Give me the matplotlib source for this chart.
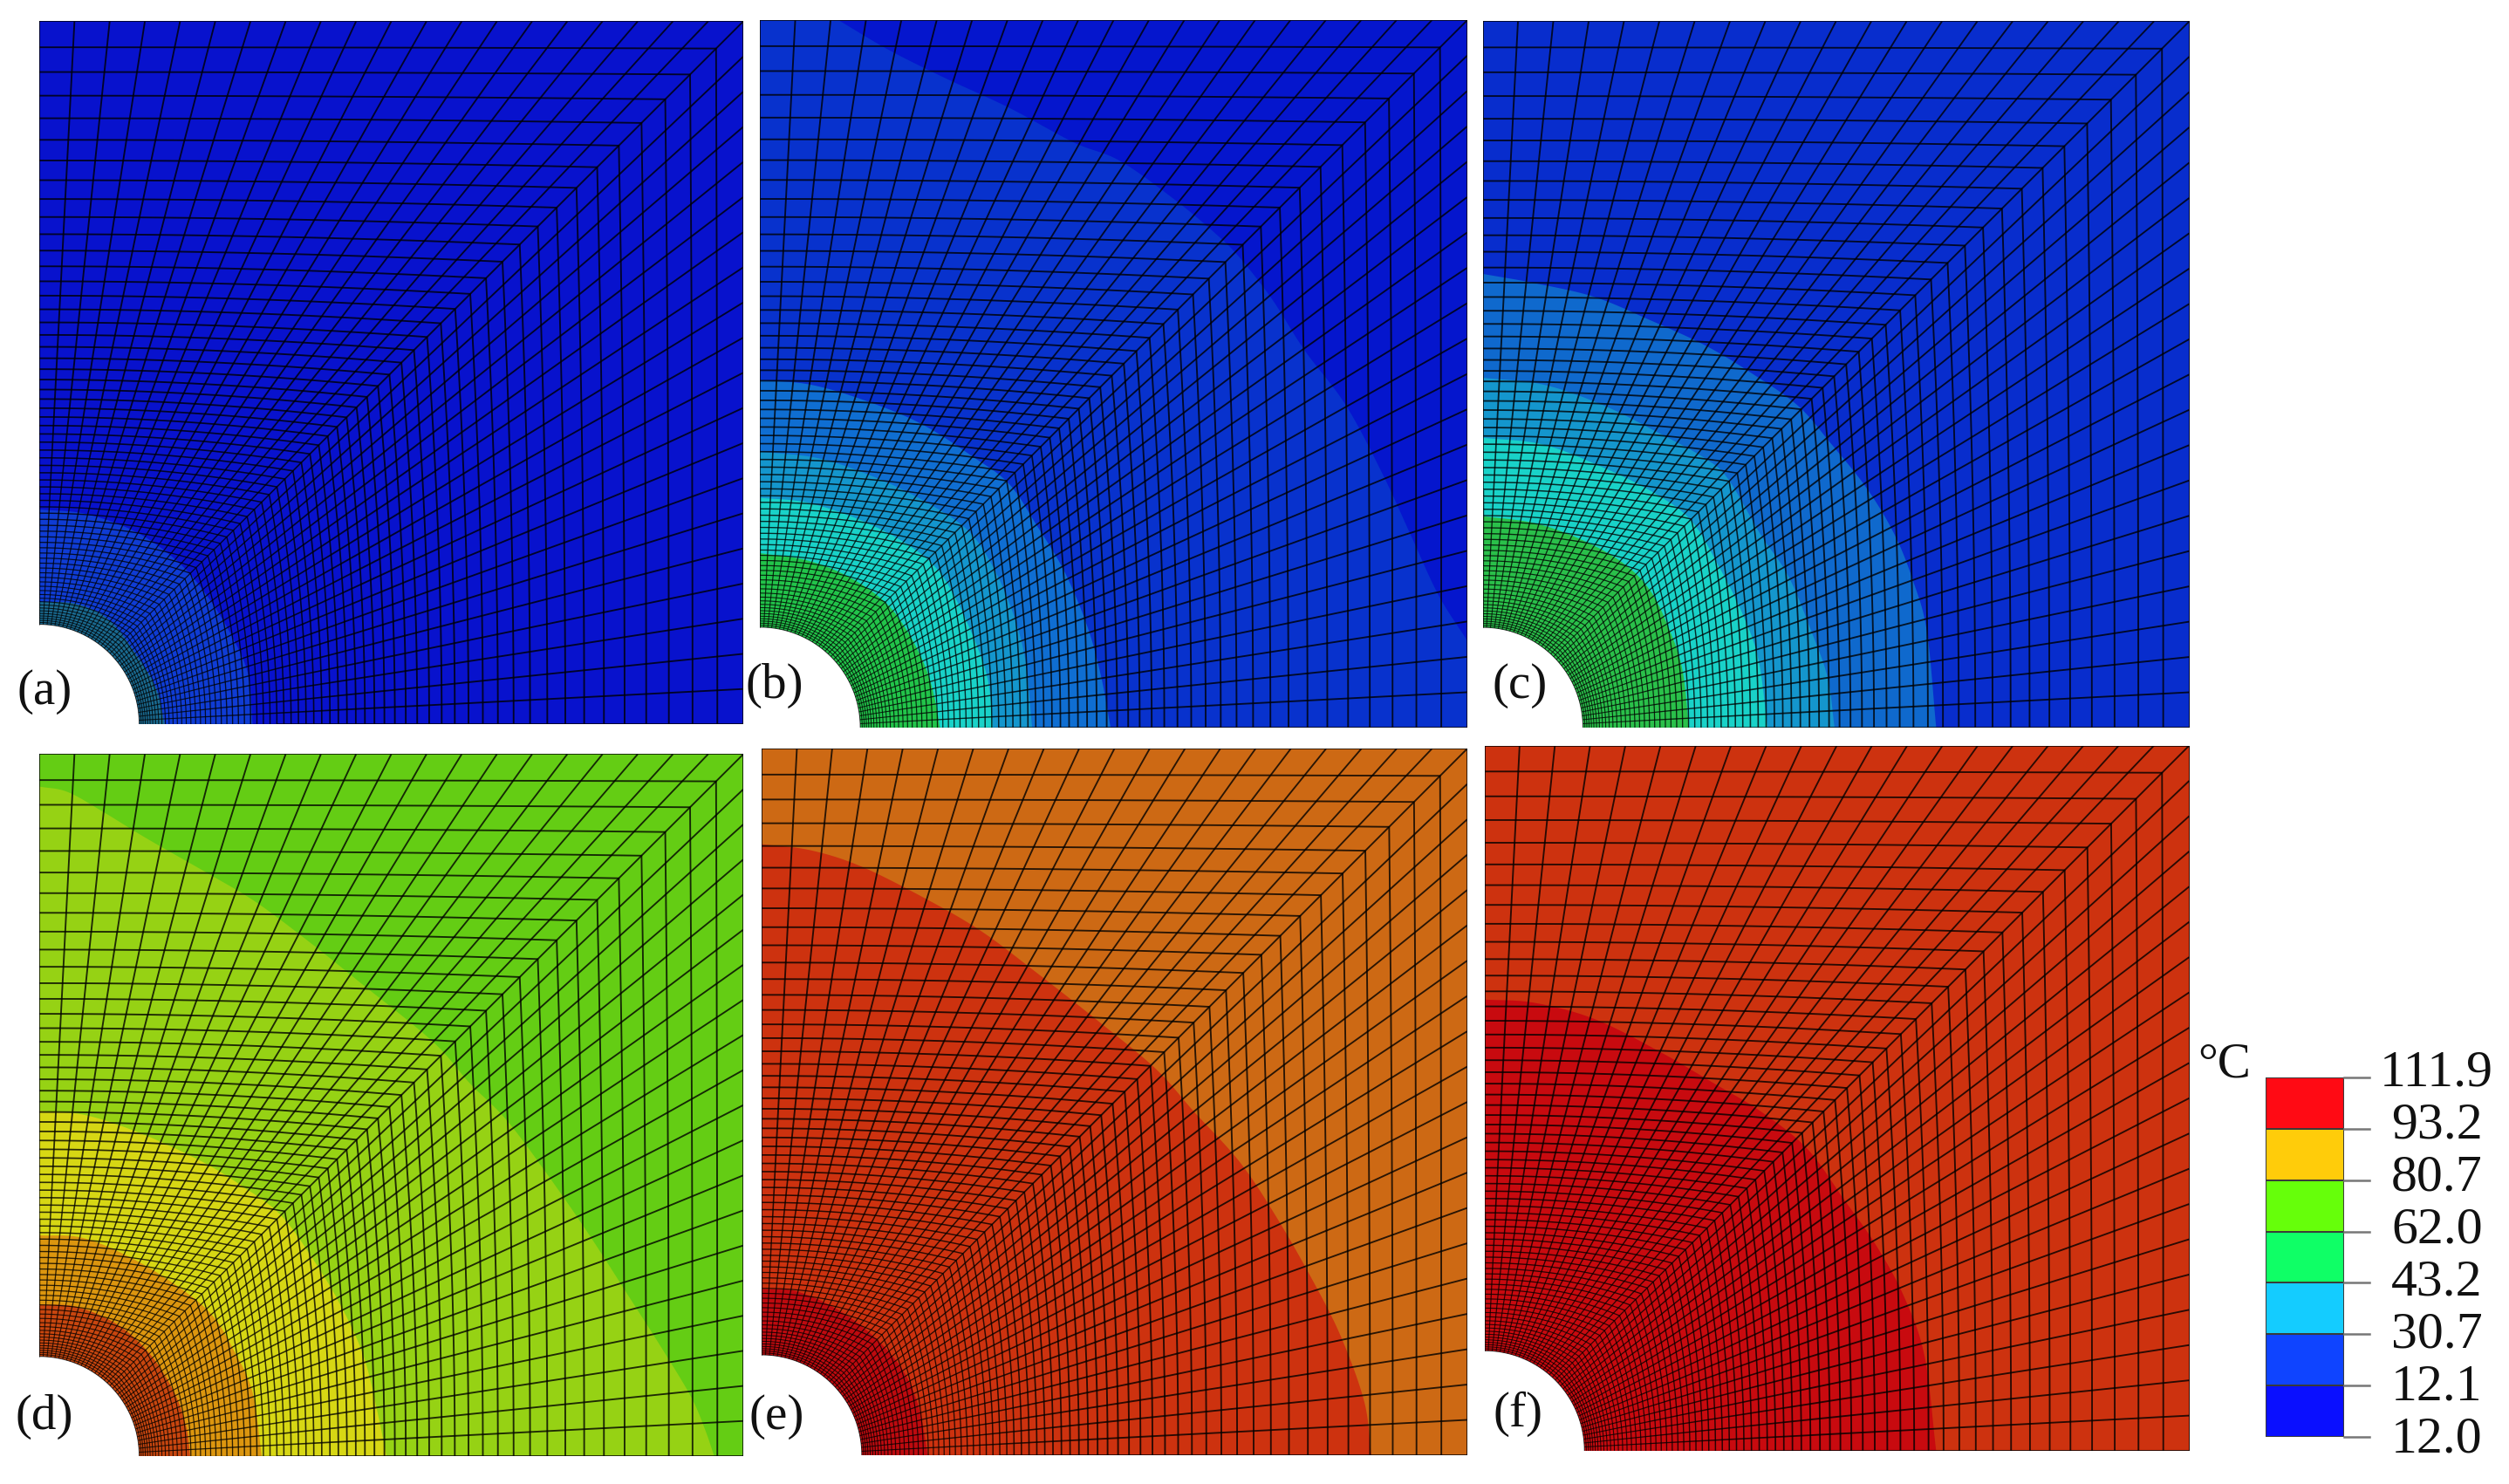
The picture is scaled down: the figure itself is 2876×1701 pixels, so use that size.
import numpy as np
import matplotlib
matplotlib.use('Agg')
import matplotlib.pyplot as plt
from matplotlib.collections import LineCollection
from matplotlib.patches import Circle

W, H = 2876, 1701
plt.rcParams['font.family'] = ['Liberation Serif', 'DejaVu Serif']

# legend
legend_labels = ['12.0', '12.1', '30.7', '43.2', '62.0', '80.7', '93.2', '111.9']
legend_colors = ['#0a0fff', '#0f44ff', '#14ccff', '#0fff66', '#66ff0a', '#ffcc0a', '#ff0a14']

# band colours and contour lines, outermost first
# box is (left, right, top, bottom) of the panel in the same reading units
a_colors = ['#0812cd', '#0f3cd4', '#1a6a90']
a_lines = [
    [(28, 1075), (130, 1085), (240, 1125), (330, 1190), (390, 1260), (440, 1340), (480, 1430), (490, 1540)],
    [(28, 1275), (110, 1280), (180, 1315), (235, 1385), (280, 1460), (300, 1540)],
]
a_box = (28, 1553, 18, 1540)

b_colors = ['#0516cd', '#0832cd', '#0f6ed2', '#1496cd', '#19d2c8', '#22c44a']
b_lines = [
    [(190, 15), (300, 80), (420, 140), (560, 205), (700, 280), (800, 320), (920, 405), (1010, 480), (1060, 530),
     (1130, 620), (1200, 730), (1290, 850), (1370, 1000), (1430, 1130), (1490, 1260), (1553, 1360)],
    [(20, 795), (130, 805), (250, 840), (370, 890), (480, 960), (560, 1020), (620, 1110), (680, 1210), (730, 1330),
     (760, 1440), (780, 1548)],
    [(20, 950), (150, 965), (280, 1010), (390, 1065), (470, 1120), (520, 1190), (565, 1290), (595, 1400), (610, 1548)],
    [(20, 1050), (120, 1060), (230, 1095), (330, 1145), (400, 1200), (445, 1270), (490, 1370), (515, 1450), (525, 1548)],
    [(20, 1170), (120, 1185), (210, 1220), (290, 1275), (340, 1340), (380, 1420), (400, 1490), (410, 1548)],
]
b_box = (20, 1553, 15, 1548)

c_colors = ['#082dcd', '#0f69cd', '#1496cd', '#19d2c8', '#2ac04a']
c_lines = [
    [(18, 565), (130, 585), (260, 615), (380, 665), (500, 720), (600, 780), (700, 850), (770, 930), (850, 1030),
     (910, 1130), (950, 1230), (980, 1340), (1000, 1548)],
    [(18, 790), (150, 805), (280, 850), (400, 910), (500, 965), (550, 1010), (620, 1130), (680, 1220), (730, 1340),
     (765, 1440), (780, 1548)],
    [(18, 920), (150, 935), (280, 985), (390, 1040), (470, 1100), (530, 1200), (580, 1300), (615, 1400), (635, 1548)],
    [(18, 1090), (130, 1105), (230, 1140), (320, 1190), (380, 1250), (420, 1330), (450, 1420), (465, 1548)],
]
c_box = (18, 1548, 18, 1548)

d_colors = ['#64cd14', '#96d214', '#d7d714', '#dc960f', '#c8460f']
d_lines = [
    [(28, 88), (90, 100), (170, 145), (260, 200), (400, 280), (500, 340), (620, 430), (720, 510), (880, 640),
     (960, 730), (1040, 810), (1130, 930), (1220, 1060), (1310, 1200), (1380, 1310), (1440, 1410), (1470, 1480),
     (1490, 1538)],
    [(28, 790), (130, 800), (250, 840), (380, 900), (470, 955), (550, 1015), (620, 1110), (680, 1210), (730, 1320),
     (760, 1440), (780, 1538)],
    [(28, 1060), (120, 1065), (220, 1105), (320, 1165), (400, 1230), (450, 1310), (490, 1400), (510, 1538)],
    [(28, 1210), (110, 1215), (200, 1255), (270, 1320), (320, 1400), (345, 1470), (355, 1538)],
]
d_box = (28, 1553, 18, 1538)

e_colors = ['#cd6914', '#cd320f', '#be0a0f']
e_lines = [
    [(25, 222), (130, 235), (240, 270), (380, 340), (500, 410), (620, 500), (760, 610), (880, 710), (960, 800),
     (1060, 910), (1140, 1030), (1220, 1170), (1280, 1290), (1330, 1430), (1345, 1545)],
    [(25, 1185), (100, 1190), (190, 1230), (270, 1290), (330, 1360), (365, 1440), (385, 1545)],
]
e_box = (25, 1553, 15, 1545)

f_colors = ['#cd320f', '#c80a0f']
f_lines = [
    [(22, 568), (130, 575), (260, 610), (400, 680), (520, 750), (620, 810), (720, 890), (800, 1000), (870, 1100),
     (930, 1210), (975, 1340), (1000, 1545)],
]
f_box = (22, 1548, 18, 1545)

panel_pos = [(45, 852, 24.5, 830), (871, 1682, 23, 834), (1699.5, 2509.5, 24.5, 834),
             (45, 852, 864.5, 1669), (873, 1682, 858, 1668), (1701.5, 2509.5, 854.5, 1663)]
panel_names = ['(a)', '(b)', '(c)', '(d)', '(e)', '(f)']
name_pos = [(51, 793), (888, 786), (1742, 786), (51, 1624), (890, 1624), (1740, 1621)]
panel_colors = [a_colors, b_colors, c_colors, d_colors, e_colors, f_colors]
panel_lines = [a_lines, b_lines, c_lines, d_lines, e_lines, f_lines]
panel_box = [a_box, b_box, c_box, d_box, e_box, f_box]
R = 0.142

# row spacing of the mesh against distance from the hole, pixels, read along the left edge
spacing_dist = [0, 40, 250, 690]
spacing_size = [2.2, 5, 10.5, 31]


def smooth(pts):
    # catmull-rom through the read points
    p = np.array(pts, dtype=float)
    p = np.vstack([2 * p[0] - p[1], p, 2 * p[-1] - p[-2]])
    u = np.linspace(0, 1, 12, endpoint=False)[:, None]
    out = []
    for i in range(1, len(p) - 2):
        p0, p1, p2, p3 = p[i - 1], p[i], p[i + 1], p[i + 2]
        out.append(0.5 * (2 * p1 + (p2 - p0) * u + (2 * p0 - 5 * p1 + 4 * p2 - p3) * u ** 2
                          + (3 * p1 - p0 - 3 * p2 + p3) * u ** 3))
    out.append(p[-2][None])
    return np.vstack(out)


def mesh_lines():
    n_side = 20
    d = [0.0]
    while d[-1] < spacing_dist[-1]:
        d.append(d[-1] + np.interp(d[-1], spacing_dist, spacing_size))
    t = np.array(d) / d[-1]
    j = np.arange(2 * n_side + 1)
    s = j / n_side
    outer = np.column_stack([np.where(s <= 1, 1.0, 2 - s), np.where(s <= 1, s, 1.0)])
    th = j * np.pi / (4 * n_side)
    inner = R * np.column_stack([np.cos(th), np.sin(th)])
    grid = inner[None, :, :] * (1 - t[:, None, None]) + outer[None, :, :] * t[:, None, None]
    segs, widths = [], []
    for i in range(len(t)):
        lw = 0.7 + 0.65 * min(t[i] * 2.5, 1)
        segs.append(grid[i])
        widths.append(lw)
        if i > 0:
            for k in j:
                segs.append(grid[i - 1:i + 1, k])
                widths.append(lw)
    return segs, widths


fig = plt.figure(figsize=(W / 100, H / 100), dpi=100, facecolor='white')


def pixel_axes(x0, x1, y0, y1):
    return fig.add_axes([x0 / W, 1 - y1 / H, (x1 - x0) / W, (y1 - y0) / H])


segs, widths = mesh_lines()
for pos, cols, lines, box in zip(panel_pos, panel_colors, panel_lines, panel_box):
    ax = pixel_axes(*pos)
    ax.set_xlim(0, 1)
    ax.set_ylim(0, 1)
    ax.axis('off')
    ax.fill([0, 1, 1, 0], [0, 0, 1, 1], color=cols[0], lw=0, zorder=1)
    for k, (col, pts) in enumerate(zip(cols[1:], lines)):
        c = smooth(pts)
        px = list((c[:, 0] - box[0]) / (box[1] - box[0]))
        py = list((box[3] - c[:, 1]) / (box[3] - box[2]))
        if px[-1] > 0.99 and py[-1] > 0.01:
            px.append(1)
            py.append(0)
        px.append(0)
        py.append(0)
        if py[0] > 0.99:
            px.append(0)
            py.append(1)
        ax.fill(px, py, color=col, lw=0, zorder=2 + k)
    ax.add_patch(Circle((0, 0), R, facecolor='white', edgecolor='none', zorder=10))
    ax.add_collection(LineCollection(segs, colors='#000000', linewidths=widths, alpha=0.8, zorder=11))

for name, (nx, ny) in zip(panel_names, name_pos):
    fig.text(nx / W, 1 - ny / H, name, fontsize=41, ha='center', va='center', color='#111111', zorder=20)

# colour legend
cax = pixel_axes(2597, 2687, 1235, 1647)
cax.set_xlim(0, 1)
cax.set_ylim(0, len(legend_colors))
cax.axis('off')
cax.barh(np.arange(len(legend_colors)) + 0.5, np.ones(len(legend_colors)), height=1.0, color=legend_colors,
         edgecolor='#3a3a3a', linewidth=1.4)
for i, lab in enumerate(legend_labels):
    cax.plot([1, 1.32], [i, i], color='#777777', lw=1.8, clip_on=False)
    cax.text(2.18, i * 1.019 - 0.06, lab, fontsize=43, ha='center', va='center', color='#111111', clip_on=False)
fig.text(2550 / W, 1 - 1220 / H, '°C', fontsize=41, ha='center', va='center', color='#111111')

fig.savefig('out.png', dpi=100, facecolor='white')
